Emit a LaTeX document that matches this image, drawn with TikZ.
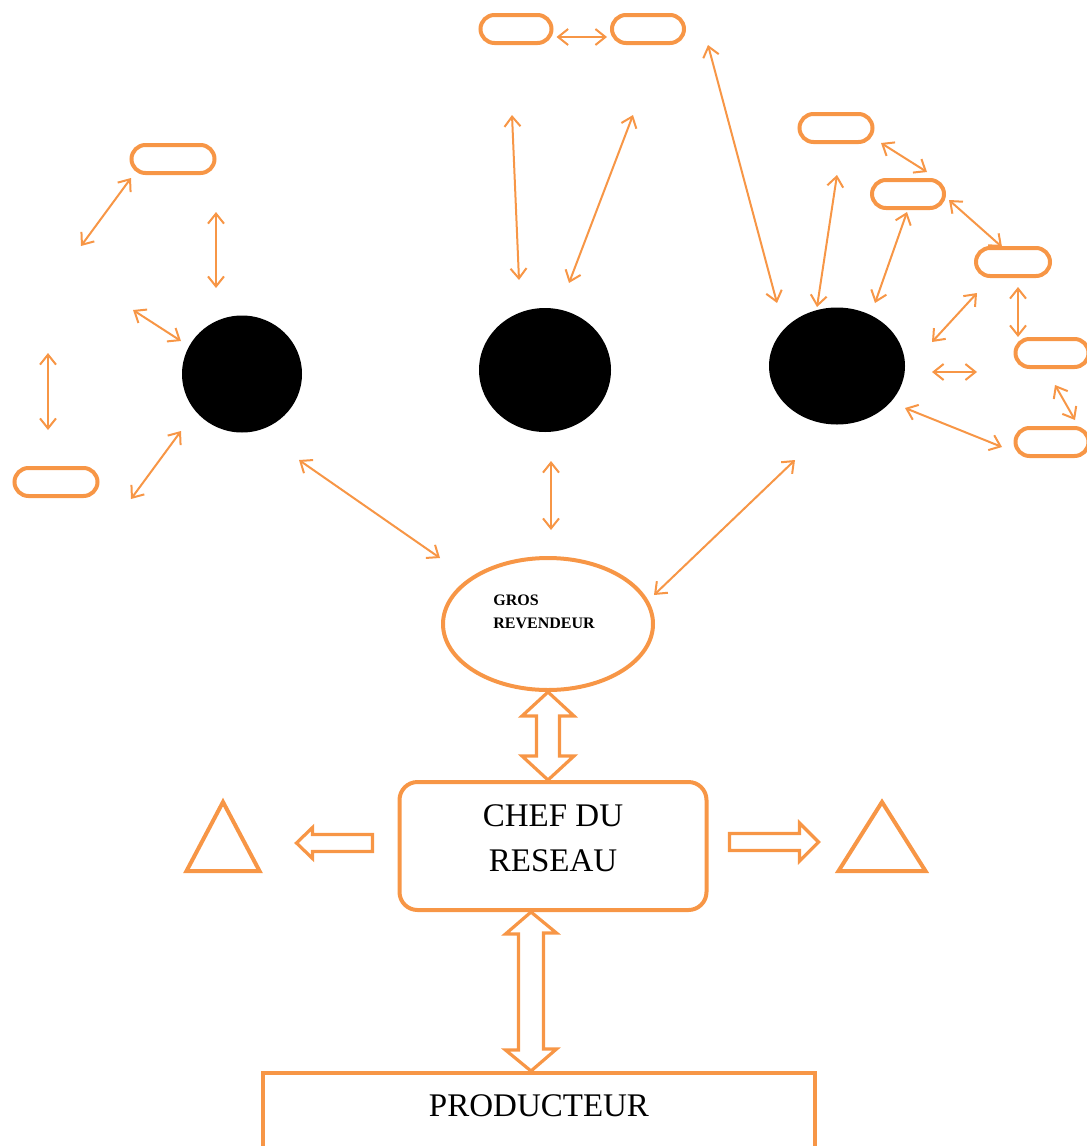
\documentclass[tikz,border=0pt]{standalone}
\usepackage{fontspec}
\setmainfont{Liberation Serif}
\usetikzlibrary{shapes,arrows.meta,positioning,calc}
\definecolor{orng}{RGB}{247,150,70}

\begin{document}
\begin{tikzpicture}[
    x=1pt, y=-1pt,
    pill/.style={rounded rectangle, draw=orng, line width=4pt, inner sep=0pt, minimum height=28pt},
    blob/.style={ellipse, fill=black, inner sep=0pt},
    box/.style={draw=orng, line width=4pt, inner sep=0pt},
    tri/.style={isosceles triangle, isosceles triangle stretches, shape border rotate=90, draw=orng, line width=4pt, inner sep=0pt},
    arrow/.style={<->, >={Straight Barb[length=10pt,width=16pt]}, draw=orng, line width=2pt},
    hollow/.style={draw=orng, line width=3.2pt, line join=miter}
]
    \useasboundingbox (0,0) rectangle (1087,1146);
    \clip (0,0) rectangle (1087,1146);

    % pills
    \node[pill, minimum width=71pt] (pa) at (516,29) {};
    \node[pill, minimum width=72pt] (pb) at (648,29) {};
    \node[pill, minimum width=83pt] (pl) at (173,159) {};
    \node[pill, minimum width=83pt] (pbl) at (56,482) {};
    \node[pill, minimum width=73pt] (p1) at (836,128) {};
    \node[pill, minimum width=72pt] (p2) at (908,194) {};
    \node[pill, minimum width=74pt] (p3) at (1013,262) {};
    \node[pill, minimum width=73pt] (p4) at (1052,353) {};
    \node[pill, minimum width=73pt] (p5) at (1052,442) {};

    % black circles
    \node[blob, minimum width=120pt, minimum height=117pt] (lc) at (242,374) {};
    \node[blob, minimum width=132pt, minimum height=124pt] (mc) at (545,370) {};
    \node[blob, minimum width=136pt, minimum height=117pt] (rc) at (837,366) {};

    % main chain
    \node[box, ellipse, minimum width=210pt, minimum height=132pt,
        label={[font=\fontsize{16}{23}\selectfont\bfseries, align=left, xshift=-4pt, yshift=12pt]center:GROS\\REVENDEUR}] (gros) at (548,624) {};
    \node[box, rectangle, rounded corners=18pt, minimum width=307pt, minimum height=128pt,
        font=\fontsize{33}{45}\selectfont, align=center, text depth=16pt] (chef) at (553,846) {CHEF DU\\RESEAU};
    \node[box, rectangle, anchor=north, minimum width=552pt, inner ysep=20pt,
        font=\fontsize{33}{40}\selectfont, text height=23pt, text depth=40pt] (prod) at (539,1071) {PRODUCTEUR};

    % triangles
    \node[tri, anchor=lower side, minimum width=73pt, minimum height=69pt] (tl) at (223,873) {};
    \node[tri, anchor=lower side, minimum width=87pt, minimum height=69pt] (tr) at (882,873) {};

    % free ends of the thin arrows
    \coordinate (t1) at (708,45);   \coordinate (t2) at (777,303);
    \coordinate (t3) at (512,115);  \coordinate (t4) at (519,280);
    \coordinate (t5) at (633,115);  \coordinate (t6) at (569,283);
    \coordinate (l1) at (131,178);  \coordinate (l2) at (81,246);
    \coordinate (l3) at (216,212);  \coordinate (l4) at (216,288);
    \coordinate (l5) at (133,310);  \coordinate (l6) at (181,341);
    \coordinate (l7) at (48,353);   \coordinate (l8) at (48,430);
    \coordinate (l9) at (181,431);  \coordinate (l10) at (131,499);
    \coordinate (r1) at (881,143);  \coordinate (r2) at (927,172);
    \coordinate (r3) at (949,200);  \coordinate (r4) at (1002,247);
    \coordinate (r5) at (837,175);  \coordinate (r6) at (817,307);
    \coordinate (r7) at (907,212);  \coordinate (r8) at (875,303);
    \coordinate (r9) at (977,293);  \coordinate (r10) at (932,342);
    \coordinate (r11) at (932,372); \coordinate (r12) at (977,372);
    \coordinate (r13) at (1018,287); \coordinate (r14) at (1018,337);
    \coordinate (r15) at (1055,385); \coordinate (r16) at (1075,420);
    \coordinate (r17) at (905,408); \coordinate (r18) at (1002,447);
    \coordinate (b1) at (299,460);  \coordinate (b2) at (440,558);
    \coordinate (b3) at (551,461);  \coordinate (b4) at (551,530);
    \coordinate (b5) at (795,460);  \coordinate (b6) at (654,595);

    % thin arrows
    \draw[arrow] ([shift={(3,8)}]pa.east) -- ([shift={(-3,8)}]pb.west);
    \draw[arrow] (t1) -- (t2);
    \draw[arrow] (t3) -- (t4);
    \draw[arrow] (t5) -- (t6);
    \draw[arrow] (l1) -- (l2);
    \draw[arrow] (l3) -- (l4);
    \draw[arrow] (l5) -- (l6);
    \draw[arrow] (l7) -- (l8);
    \draw[arrow] (l9) -- (l10);
    \draw[arrow] (r1) -- (r2);
    \draw[arrow] (r3) -- (r4);
    \draw[arrow] (r5) -- (r6);
    \draw[arrow] (r7) -- (r8);
    \draw[arrow] (r9) -- (r10);
    \draw[arrow] (r11) -- (r12);
    \draw[arrow] (r13) -- (r14);
    \draw[arrow] (r15) -- (r16);
    \draw[arrow] (r17) -- (r18);
    \draw[arrow] (b1) -- (b2);
    \draw[arrow] (b3) -- (b4);
    \draw[arrow] (b5) -- (b6);

    % hollow block arrows
    \draw[hollow] (gros.south) -- ++(26,24) -- ++(-14.5,0) -- ++(0,40) -- ++(14.5,0)
        -- (gros.south |- chef.north) -- ++(-26,-24) -- ++(14.5,0) -- ++(0,-40) -- ++(-14.5,0) -- cycle;
    \draw[hollow] ($(chef.south)+(-22,0)$) -- ++(25.5,21) -- ++(-13,0) -- ++(0,116) -- ++(13,0)
        -- ($(chef.south |- prod.north)+(-22,0)$) -- ++(-25.5,-21) -- ++(13,0) -- ++(0,-116) -- ++(-13,0) -- cycle;
    \draw[hollow] ($(chef.west)+(-25,-11.5)$) -- ++(-60,0) -- ++(0,-7) -- ++(-16,15.5)
        -- ++(16,15.5) -- ++(0,-7) -- ++(60,0) -- cycle;
    \draw[hollow] ($(chef.east)+(21,-12.5)$) -- ++(70,0) -- ++(0,-10.5) -- ++(19,19)
        -- ++(-19,19) -- ++(0,-10.5) -- ++(-70,0) -- cycle;
\end{tikzpicture}
\end{document}
